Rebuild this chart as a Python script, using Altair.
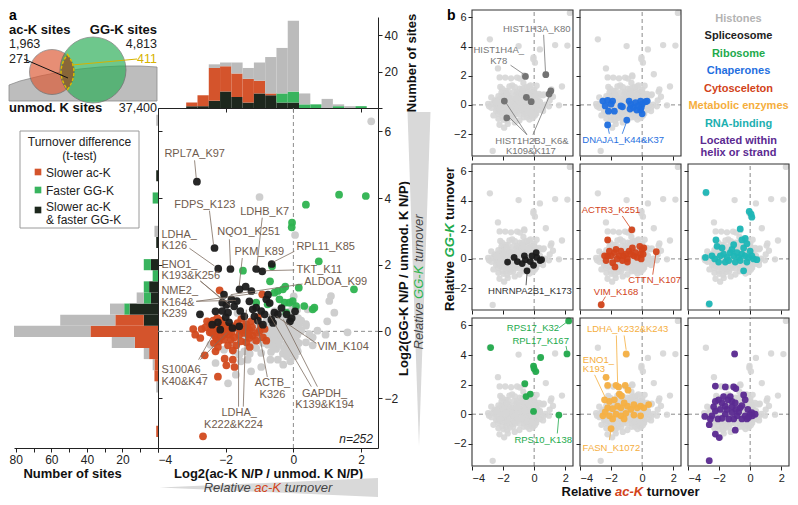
import altair as alt
import pandas as pd

W, H, M = 782, 489, 8          # drawing size (page minus 8px margin)
FONT = "Liberation Sans"

# ======================= DATA =======================
site_names = ["ac-K sites", "GG-K sites", "unmod. K sites"]
site_counts = ["1,963", "4,813", "37,400"]
overlap_counts = ["271", "411"]

cat_names = ["Slower ac-K & faster GG-K", "Slower ac-K", "Faster GG-K", "No difference"]
hist_colors = ["#1d271d", "#d4542c", "#38b45e", "#bbbbbb"]
point_colors = ["#1b1b1b", "#d24a1e", "#2eb350", "#cecece"]

# top histogram: bins of 1/3 along relative ac-K turnover (bin k -> centre k/3)
top_bin_k = list(range(-9, 7))
top_both = [1, 1, 4, 9, 6, 3, 8, 7, 3, 3, 0, 0, 0, 0, 0, 0]
top_slower = [2, 6, 18, 14, 13, 13, 7, 1, 0, 0, 0, 0, 0, 0, 0, 0]
top_faster = [0, 0, 0, 0, 0, 0, 0, 0, 5, 6, 2, 2, 0, 1, 0, 1]
top_none = [0, 0, 2, 2, 6, 6, 10, 20, 25, 39, 6, 0, 5, 1, 1, 0]

# left histogram: bins of 1/3 along relative GG-K turnover
left_bin_k = [-9, -5, -4, -3, -2, -1, 0, 1, 2, 3, 4, 5, 6, 8, 9, 12, 14, 19]
left_both = [0, 0, 0, 0, 0, 0, 0, 8, 16, 4, 5, 0, 4, 1, 0, 0, 1, 0]
left_slower = [1, 0, 2, 2, 5, 13, 38, 16, 0, 0, 0, 0, 0, 0, 0, 0, 0, 0]
left_faster = [0, 0, 0, 0, 0, 0, 0, 0, 3, 4, 3, 3, 4, 0, 0, 3, 0, 0]
left_none = [0, 1, 0, 1, 3, 13, 43, 31, 8, 4, 0, 0, 0, 0, 2, 0, 0, 1]

# sites (x = log2 ac-K ratio, y = log2 GG-K ratio)
pts_both = [(-2.85, 4.49), (-2.33, 2.5), (-2.22, 1.88), (-1.86, 1.87), (-1.1, 1.87), (-0.92, 1.8),
            (-0.64, 2.02), (-1.59, 1.26), (-1.41, 1.34), (-1.24, 1.21), (-0.8, 0.96), (-2.1, 0.86),
            (-1.83, 0.96), (-1.67, 0.91), (-2.76, 0.51), (-1.98, 0.79), (-2.1, 0.61), (-1.93, 0.56),
            (-2.23, 0.27), (-1.9, 0.27), (-2.16, 0.05), (-1.57, 0.61), (-1.1, 0.71), (-0.95, 0.61),
            (-1.05, 0.32), (-0.85, 0.51), (-0.46, 0.51), (-0.2, 0.51), (-1.2, 0.66), (-0.56, 0.56),
            (-2.0, 0.42), (-1.75, 0.75), (-2.4, 0.2), (-1.45, 0.45), (-0.65, 0.35), (-1.3, 0.9),
            (-2.05, 1.1), (-0.35, 0.7), (-1.6, 0.15), (-0.9, 0.2), (-1.15, 0.45), (-2.3, 0.6),
            (-0.1, 0.3), (-1.8, 0.1), (-0.7, 0.85), (-0.6, 0.25), (-0.75, 1.1), (0.05, 0.6), (-0.05, 0.4)]
pts_slower = [(-2.96, 0.07), (-2.9, -0.1), (-2.71, 0.07), (-2.62, -0.72), (-2.67, -3.15), (-2.55, 0.3),
              (-2.75, -0.2), (-2.6, 0.12), (-2.47, -0.03), (-2.32, -0.13), (-2.27, -0.23), (-2.42, 0.12),
              (-2.23, -0.47), (-2.23, -1.36), (-2.37, 0.32), (-2.45, 0.22), (-2.3, 0.05), (-2.2, 0.15),
              (-2.35, -0.35), (-2.4, -0.05), (-2.25, 0.4), (-2.18, -0.05), (-2.3, -0.6), (-2.42, 0.0),
              (-2.2, -0.3), (-2.35, 0.1), (-2.03, -0.08), (-1.93, -0.42), (-2.03, -0.82), (-1.98, -1.02),
              (-2.13, 0.32), (-2.1, 0.1), (-1.95, 0.15), (-1.9, -0.1), (-2.05, -0.25), (-1.88, 0.05),
              (-2.12, -0.15), (-1.97, 0.0), (-2.08, 0.2), (-1.85, -0.25), (-1.83, -0.03), (-1.69, 0.12),
              (-1.74, -0.18), (-1.54, 0.02), (-1.69, -0.42), (-1.79, -0.57), (-1.79, -0.85), (-1.74, -1.07),
              (-1.54, 0.37), (-1.6, -0.1), (-1.65, 0.25), (-1.78, 0.15), (-1.55, -0.3), (-1.39, 0.22),
              (-1.29, 0.02), (-1.2, -0.13), (-1.39, -0.33), (-1.29, -0.47), (-1.35, 0.1), (-1.25, 0.3),
              (-1.45, -0.05), (-1.4, 0.05), (-1.3, -0.2), (-1.22, 0.12), (-1.47, 0.15), (-1.33, -0.1),
              (-1.0, 0.02), (-0.85, 0.07), (-1.1, -0.28), (-0.9, -0.18), (-1.05, 0.42), (-0.95, 0.15),
              (-1.08, -0.05), (-0.8, -0.28), (-2.18, 1.23), (-0.92, 1.11)]
pts_faster = [(1.35, 4.1), (2.14, 4.06), (0.37, 3.8), (-0.04, 3.26), (-0.05, 3.12), (0.75, 2.1),
              (-0.63, 1.95), (-0.69, 1.5), (0.16, 1.31), (1.79, 1.26), (-0.46, 1.21), (-0.31, 1.26),
              (-0.41, 0.96), (-0.12, 0.86), (-0.02, 0.91), (0.62, 0.71), (-0.56, 1.16), (-1.49, 1.82),
              (-0.24, 1.34), (-1.1, 0.86), (-0.26, 0.86), (0.08, 0.76), (0.32, 0.76), (0.57, 0.66),
              (-0.21, 0.56), (-0.76, 0.81)]
pts_none = [(-0.12, -0.08), (0.08, -0.28), (-0.02, 0.12), (-0.12, -0.57), (0.05, 2.89), (0.0, 0.3),
            (0.1, 0.05), (-0.08, 0.2), (0.12, -0.1), (-0.15, 0.35), (0.02, -0.45), (0.15, 0.2),
            (-0.05, -0.2), (0.06, 0.45), (-0.1, 0.6), (0.13, -0.6), (-0.14, -0.3), (0.0, -0.05),
            (0.09, 0.15), (-0.07, 0.45), (0.04, -0.75), (-0.16, 0.05), (0.16, -0.35), (-0.03, 0.8),
            (0.11, 0.65), (-0.09, -0.9), (0.07, -0.12), (-0.13, 0.15), (0.03, 0.25), (0.14, 0.4),
            (-0.06, -0.38), (0.01, 1.05), (-0.11, -0.18), (0.1, -0.5), (0.05, 0.1), (-0.04, -0.65),
            (0.15, 0.0), (-0.15, -0.1), (-0.41, -0.28), (-0.31, -0.67), (-0.21, 0.07), (-0.36, 0.22),
            (-0.21, 0.37), (-0.46, -0.85), (-0.25, -0.15), (-0.3, 0.1), (-0.45, 0.0), (-0.2, -0.35),
            (-0.35, 0.45), (-0.4, 0.3), (-0.28, -0.5), (-0.48, 0.15), (-0.18, 0.25), (-0.33, -0.05),
            (-0.43, -0.4), (-0.24, 0.55), (-0.38, 0.65), (-0.19, -0.75), (-0.27, 0.2), (-0.47, -0.15),
            (-0.3, -1.0), (-0.42, 0.5), (-0.22, -0.55), (-0.66, -0.08), (-0.66, -0.62), (-0.8, 0.12),
            (-0.51, -0.53), (-0.51, 0.37), (-0.6, 0.05), (-0.7, -0.25), (-0.55, 0.2), (-0.75, -0.4),
            (-0.65, 0.3), (-0.58, -0.15), (-0.72, 0.0), (-0.8, -0.15), (-0.53, -0.3), (-0.62, 0.45),
            (-0.78, 0.35), (-0.68, -0.85), (-0.56, 0.6), (-0.7, 0.15), (-0.6, -0.45), (-0.95, -1.07),
            (-1.0, 4.03), (-1.1, -0.5), (-0.9, -0.35), (-1.05, 0.25), (-0.88, 0.0), (-1.15, 0.05),
            (-0.95, -0.65), (-1.12, -0.2), (-0.86, 0.2), (-1.29, -0.67), (-1.35, -0.85), (-1.2, -0.4),
            (-1.45, -0.6), (-1.25, -1.2), (-1.4, -0.15), (-1.6, -0.7), (-1.7, -1.3), (-1.55, -0.9),
            (-1.8, -0.35), (-1.65, 0.55), (-1.75, -0.6), (-1.93, -1.56), (-2.05, -0.55), (-2.3, -0.95),
            (-2.45, -0.4), (0.23, 0.32), (0.37, 0.22), (0.47, -0.08), (0.37, -0.33), (0.23, 0.02),
            (0.37, 0.17), (0.57, -0.18), (0.71, 0.02), (0.57, -0.42), (0.42, 0.66), (1.06, 0.91),
            (1.11, 1.06), (1.21, 0.56), (0.95, -0.1), (1.0, 0.3), (1.6, -0.03), (2.3, 6.3)]

a_labels = [("RPL7A_K97", -3.81, 5.31, "left"), ("FDPS_K123", -3.52, 3.80, "left"),
            ("LDHB_K7", -1.57, 3.59, "left"), ("LDHA_", -3.90, 2.90, "left"), ("K126", -3.90, 2.55, "left"),
            ("NQO1_K251", -2.25, 2.97, "left"), ("PKM_K89", -1.74, 2.37, "left"),
            ("RPL11_K85", 0.09, 2.52, "left"), ("TKT_K11", 0.09, 1.84, "left"), ("ALDOA_K99", 0.32, 1.48, "left"),
            ("ENO1_", -3.90, 1.99, "left"), ("K193&K256", -3.90, 1.65, "left"),
            ("NME2_", -3.90, 1.20, "left"), ("K164&", -3.90, 0.86, "left"), ("K239", -3.90, 0.53, "left"),
            ("S100A6_", -3.90, -1.16, "left"), ("K40&K47", -3.90, -1.51, "left"),
            ("LDHA_", -1.60, -2.46, "center"), ("K222&K224", -1.77, -2.80, "center"),
            ("ACTB_", -0.62, -1.54, "center"), ("K326", -0.62, -1.90, "center"),
            ("GAPDH_", 0.92, -1.87, "center"), ("K139&K194", 0.92, -2.20, "center"),
            ("VIM_K104", 0.71, -0.47, "left")]
a_leaders = [(-2.92, 5.13, -2.87, 4.6), (-2.48, 3.62, -2.36, 2.61), (-0.92, 3.41, -1.08, 1.96),
             (-3.07, 2.49, -2.33, 1.96), (-1.89, 2.76, -1.86, 1.99), (-1.51, 2.2, -1.6, 1.36),
             (0.03, 2.4, -0.59, 2.08), (0.03, 1.84, -0.83, 1.82), (0.27, 1.42, -1.85, 1.1),
             (-2.75, 1.51, -2.07, 0.92), (-2.75, 1.51, -1.86, 0.77), (-2.87, 0.9, -1.06, 1.15),
             (-2.87, 0.9, -1.7, 0.93), (-2.8, -0.85, -2.39, -0.12), (-2.75, -0.85, -1.95, -0.03),
             (-1.62, -2.26, -1.62, -0.03), (-1.48, -2.26, -1.39, 0.65), (-0.77, -1.37, -1.09, 0.36),
             (0.53, -1.66, -0.71, 0.5), (0.71, -1.66, -0.3, 0.36), (0.68, -0.36, -0.5, 0.45)]

# panel b groups
hist_pts = [(-0.56, 1.95), (0.75, 2.07), (1.07, 0.96), (0.96, 0.74), (-0.5, 0.52), (-0.19, 0.22),
            (-1.92, 0.26), (-1.76, -0.89)]
chap_pts = [(-2.53, 0.26), (-2.22, 0.31), (-1.9, 0.26), (-2.38, -0.07), (-2.0, 0.05), (-1.37, -0.07),
            (-1.27, -0.13), (-0.84, 0.26), (-0.73, 0.05), (-0.57, -0.17), (-0.42, 0.16), (-0.1, 0.26),
            (0.0, 0.05), (0.22, 0.22), (0.32, 0.26), (-0.06, -0.17), (-0.1, -0.35), (0.0, -0.61),
            (-0.78, -0.28), (-1.79, -0.43), (-2.17, -0.43), (-2.22, -1.37), (-0.99, -1.04), (-0.35, -0.35),
            (-0.27, -0.07)]
splice_pts = [(-1.71, -0.22), (-1.29, 0.1), (-1.08, -0.18), (-0.77, -0.32), (-0.63, 0.21), (-0.56, -0.05),
              (-0.25, -0.18), (0.13, 0.43), (0.17, 0.1), (0.38, -0.11), (-0.04, -0.44), (-0.46, -0.82),
              (0.48, -0.05), (-0.14, 0.21)]
cyto_pts = [(-2.22, 1.3), (-2.42, 0.21), (-2.32, -0.11), (-2.22, 0.21), (-2.0, 0.21), (-1.9, -0.26),
            (-1.75, -0.55), (-1.68, 0.65), (-1.47, 0.21), (-1.37, 0.54), (-1.2, 0.21), (-1.05, 0.32),
            (-0.95, 0.0), (-0.84, 0.54), (-0.73, 0.32), (-0.63, 0.75), (-0.53, 0.21), (-0.42, 0.43),
            (-0.32, 0.1), (-0.15, 0.86), (-0.1, 0.32), (0.0, 0.65), (-0.06, 0.0), (0.06, 0.32), (0.11, 0.75),
            (-1.27, -0.11), (-1.62, 0.0), (-0.67, 1.99), (0.91, 0.49), (-2.63, -3.14), (-0.95, -0.22),
            (-1.79, 0.43), (-2.11, 0.54)]
rna_pts = [(-2.84, 4.55), (-0.06, 3.25), (0.06, 3.07), (0.11, 2.86), (-0.64, 2.05), (-2.2, 1.3),
           (-0.32, 1.4), (-0.53, 1.3), (-2.88, 0.1), (-2.46, 0.21), (-2.13, 0.86), (-1.81, 0.75),
           (-1.71, 0.32), (-1.49, 0.1), (-1.28, 0.43), (-1.17, 0.65), (-1.06, 0.21), (-0.85, 0.43),
           (-0.74, 0.1), (-0.64, -0.11), (-0.53, 0.32), (-0.42, 0.75), (-0.32, 0.21), (-0.21, -0.22),
           (-0.1, 0.1), (0.0, 0.54), (0.11, 0.21), (0.22, 0.0), (0.43, -0.05), (-2.03, -0.22), (-1.6, -0.22),
           (-1.38, -0.11), (-0.96, -0.22), (-0.42, -0.82), (-2.63, -3.08), (-2.28, 0.0), (-1.92, 0.21),
           (-1.06, 0.97), (-0.21, 1.04)]
ribo_pts = [(-2.8, 4.5), (2.22, 6.3), (2.11, 4.07), (0.42, 3.83), (-0.04, 3.25), (0.0, 3.07), (0.11, 2.88),
            (-0.6, 2.06), (-0.25, 1.36), (-0.52, 1.19), (-0.04, 0.19), (1.59, -0.06)]
metab_pts = [(-1.03, 4.07), (-2.32, 2.49), (-2.22, 1.95), (-1.68, 1.95), (-1.52, 1.84), (-1.09, 1.95),
             (-1.47, 1.36), (-1.33, 1.23), (-2.11, 0.86), (-1.79, 0.97), (-2.38, 0.15), (-2.22, 0.43),
             (-1.9, 0.37), (-1.58, 0.54), (-1.37, 0.43), (-1.16, 0.76), (-0.95, 0.54), (-0.73, 0.32),
             (-0.53, 0.65), (-0.32, 0.43), (-0.1, 0.54), (0.11, 0.43), (0.42, 0.65), (-2.53, -0.11),
             (-2.11, -0.11), (-1.68, 0.0), (-1.37, -0.11), (-1.05, 0.06), (-0.53, -0.06), (-0.1, -0.11),
             (-1.9, -0.32), (-1.16, -0.32), (-2.0, -0.97), (-0.91, 1.62), (-2.42, 0.97)]
helix_pts = [(-1.0, 4.07), (-2.24, 1.9), (-1.6, 1.84), (-1.06, 1.84), (-0.92, 1.73), (-2.63, -3.14),
             (-2.24, -1.34), (-1.99, -1.58), (-2.63, -0.71), (-2.92, -0.15), (-0.96, -1.08), (-2.24, 0.86),
             (-2.03, 0.97), (-1.81, 0.76), (-1.6, 0.54), (-1.28, 1.19), (-1.17, 0.86), (-0.96, 0.76),
             (-0.64, 0.43), (-0.42, 1.3), (-0.32, 0.97), (-0.15, 0.32), (0.0, 0.0), (0.11, 0.11),
             (-0.21, -0.32), (-0.53, -0.32), (-0.85, -0.11), (-1.17, 0.11), (-1.6, 0.0), (-1.92, 0.32),
             (-2.24, 0.21), (-2.46, -0.11), (-2.56, -0.32), (-2.07, -0.32), (-1.81, -0.28), (-1.38, -0.32),
             (-1.06, -0.32), (-0.74, 0.15), (-0.32, -0.11), (-0.1, -0.22), (0.15, -0.11), (-2.35, 0.5),
             (-1.43, 0.97), (-0.53, 0.58), (-0.92, 0.32), (-1.71, 1.19), (-1.17, 0.5), (0.32, 0.0),
             (-1.49, 0.32)]

hist_labels = [("HIST1H3A_K80", 0.17, 5.21, "center"), ("HIST1H4A_", -2.28, 3.76, "center"),
               ("K78", -2.28, 2.98, "center"), ("HIST1H2BJ_K6&", -0.14, -2.45, "center"),
               ("K109&K117", -0.21, -3.15, "center")]
hist_leaders = [(0.61, 4.8, 0.73, 2.26), (-1.52, 2.72, -0.71, 2.13), (-0.46, -2.04, -1.81, 0.14),
                (-0.46, -2.04, -1.65, -0.8), (-0.08, -2.04, 1.08, 0.86)]
chap_labels = [("DNAJA1_K44&K37", -1.22, -2.43, "center")]
chap_leaders = [(-2.11, -1.98, -2.22, -1.45), (-1.28, -1.98, -0.99, -1.13)]
splice_labels = [("HNRNPA2B1_K173", -0.27, -2.23, "center")]
splice_leaders = [(-0.52, -1.8, -0.46, -1.02)]
cyto_labels = [("ACTR3_K251", -2.0, 3.35, "center"), ("CTTN_K107", 0.8, -1.45, "center"),
               ("VIM_K168", -1.68, -2.27, "center")]
cyto_leaders = [(-1.28, 2.94, -0.78, 2.16), (0.68, -1.08, 0.87, 0.28), (-2.36, -2.58, -2.58, -2.97)]
ribo_labels = [("RPS17_K32", -0.08, 5.84, "center"), ("RPL17_K167", 0.42, 4.94, "center"),
               ("RPS10_K138", 0.58, -1.73, "center")]
ribo_leaders = [(1.61, 5.84, 2.11, 6.23), (2.05, 4.61, 2.11, 4.3), (1.49, -1.3, 1.58, -0.26)]
metab_labels = [("LDHA_K232&K243", -0.94, 5.73, "center"), ("ENO1_", -3.82, 3.68, "left"),
                ("K193", -3.82, 3.03, "left"), ("FASN_K1072", -1.98, -2.27, "center")]
metab_leaders = [(-1.66, 5.32, -1.58, 2.14), (-1.16, 5.32, -1.03, 4.35), (-3.06, 2.66, -2.36, 1.1),
                 (-2.11, -1.75, -2.01, -1.1)]

group_names = ["Histones", "Spliceosome", "Ribosome", "Chaperones", "Cytosceleton",
               "Metabolic enzymes", "RNA-binding", "Located within", "helix or strand"]
group_colors = ["#b3b3b3", "#222222", "#22aa4c", "#1f6fe0", "#d2431a", "#f5ae3d", "#1cb0b0",
                "#5b2a91", "#5b2a91"]

# ======================= HELPERS =======================
def sc(domain, a, b):
    return alt.Scale(domain=list(domain), range=[a - M, b - M], nice=False, zero=False)


def axis(orient, at, values, labels=True, title=None, size=12, **kw):
    if orient == "bottom":
        off = (at - M) - H
    elif orient in ("top", "left"):
        off = -(at - M)
    else:
        off = (at - M) - W
    return alt.Axis(orient=orient, offset=off, values=values, labels=labels, title=title,
                    tickSize=4, tickColor="#222", domainColor="#222", labelColor="#222",
                    labelFont=FONT, labelFontSize=size, labelPadding=2, grid=False,
                    titleFont=FONT, titleFontSize=13, titleFontWeight="bold", titleColor="#111", **kw)


def XY(cx, cy, ax=None, ay=None, xf="x", yf="y"):
    return dict(x=alt.X(f"{xf}:Q", scale=cx(), axis=ax), y=alt.Y(f"{yf}:Q", scale=cy(), axis=ay))


def pts_layer(pts, cx, cy, color, size, opacity=1.0):
    df = pd.DataFrame(pts, columns=["x", "y"])
    return alt.Chart(df).mark_circle(size=size, color=color, opacity=opacity).encode(**XY(cx, cy))


def rule_layer(segs, cx, cy, color, width=0.8, dash=None, ax=None, ay=None):
    df = pd.DataFrame(segs, columns=["x", "y", "x2", "y2"])
    kw = dict(color=color, strokeWidth=width)
    if dash:
        kw["strokeDash"] = dash
    return alt.Chart(df).mark_rule(**kw).encode(**XY(cx, cy, ax, ay), x2="x2:Q", y2="y2:Q")


def text_layers(rows, cx, cy, size, color, style="normal"):
    df = pd.DataFrame(rows, columns=["t", "x", "y", "al"])
    out = []
    for al in ("left", "center", "right"):
        sub = df[df["al"] == al]
        if len(sub):
            out.append(alt.Chart(sub).mark_text(align=al, baseline="middle", font=FONT, fontSize=size,
                                                fontStyle=style, color=color)
                       .encode(**XY(cx, cy), text="t:N"))
    return out


def stack(bin_k, layers):
    rows = []
    for i, k in enumerate(bin_k):
        base = 0
        for cat, counts in layers:
            if counts[i] > 0:
                rows.append(dict(lo=k / 3 - 1 / 6, hi=k / 3 + 1 / 6, c0=base, c1=base + counts[i], cat=cat))
                base += counts[i]
    return pd.DataFrame(rows)


L = []

# ======================= PANEL a =======================
ax_ = lambda: sc([-4, 2.5], 158, 378)
ay_ = lambda: sc([-3.5, 6.7], 448, 108)
thy_ = lambda: sc([0, 50], 108, 17)
lhx_ = lambda: sc([0, 81], 158, 14)
vx_ = lambda: sc([0, 170], 0, 170)
vy_ = lambda: sc([0, 120], 0, 120)

# Venn diagram (diagram units)
venn_gray = pd.DataFrame({"x": [9, 20, 40, 60, 80, 100, 120, 140, 157],
                          "y": [85, 81, 76, 72, 69, 67, 66, 66, 67]})
venn_gray["y2"] = 101
L.append(alt.Chart(venn_gray).mark_area(color="#bdbdbd", stroke="#8c8c8c", strokeWidth=0.8)
         .encode(**XY(vx_, vy_), y2="y2:Q"))
venn_c = pd.DataFrame({"set": ["ac-K", "GG-K"], "x": [52, 93], "y": [72, 70], "s": [45 ** 2, 66 ** 2]})
L.append(alt.Chart(venn_c).mark_circle(opacity=0.68, stroke="#555", strokeWidth=0.8)
         .encode(**XY(vx_, vy_), size=alt.Size("s:Q", scale=None),
                 color=alt.Color("set:N", scale=alt.Scale(domain=["ac-K", "GG-K"], range=["#dd5a35", "#2aae57"]),
                                 legend=None)))
LENS = "M0,-1Q0.74,0 0,1Q-0.74,0 0,-1Z"
L.append(alt.Chart(pd.DataFrame({"x": [67.5], "y": [72]}))
         .mark_point(shape=LENS, size=1225, filled=True, fill="#8f5d33", fillOpacity=0.85, opacity=1,
                     stroke="#e0bc00", strokeWidth=1.4, strokeDash=[3, 2])
         .encode(**XY(vx_, vy_)))
venn_lead = pd.DataFrame({"x": [24, 137], "y": [59, 59], "x2": [68, 72], "y2": [78, 65], "c": ["#111111", "#d6b300"]})
L.append(alt.Chart(venn_lead).mark_rule(strokeWidth=1)
         .encode(**XY(vx_, vy_), x2="x2:Q", y2="y2:Q", color=alt.Color("c:N", scale=None)))

# top histogram
top_df = stack(top_bin_k, [(cat_names[0], top_both), (cat_names[1], top_slower),
                           (cat_names[2], top_faster), (cat_names[3], top_none)])
L.append(alt.Chart(top_df).mark_rect().encode(
    x=alt.X("lo:Q", scale=ax_(), axis=axis("bottom", 108, [-4, -2, 0, 2], labels=False)), x2="hi:Q",
    y=alt.Y("c0:Q", scale=thy_(), axis=axis("right", 378, [0, 20, 40], title="Number of sites",
                                            titleAngle=270, titleBaseline="top", titlePadding=8,
                                            labelExpr="datum.value == 0 ? '' : datum.label")), y2="c1:Q",
    color=alt.Color("cat:N", scale=alt.Scale(domain=cat_names, range=hist_colors), legend=None)))

# left histogram
left_df = stack(left_bin_k, [(cat_names[0], left_both), (cat_names[1], left_slower),
                             (cat_names[2], left_faster), (cat_names[3], left_none)])
L.append(alt.Chart(left_df).mark_rect().encode(
    x=alt.X("c0:Q", scale=lhx_(), axis=axis("bottom", 448, list(range(0, 81, 10)), title="Number of sites",
                                             titleX=64, titlePadding=2,
                                             labelExpr="datum.value > 0 && datum.value % 20 == 0 ? datum.label : ''")),
    x2="c1:Q",
    y=alt.Y("lo:Q", scale=ay_(), axis=axis("right", 158, [-2, 0, 2, 4, 6], labels=False)), y2="hi:Q",
    color=alt.Color("cat:N", scale=alt.Scale(domain=cat_names, range=hist_colors), legend=None)))

# scatter
L.append(rule_layer([(-4, 0, 2.5, 0), (0, -3.5, 0, 6.7)], ax_, ay_, "#8c8c8c", 1, [4, 3],
                    ax=axis("bottom", 448, [-4, -2, 0, 2], title="Log2(ac-K N/P / unmod. K N/P)", titlePadding=2),
                    ay=axis("right", 378, [-2, 0, 2, 4, 6], title="Log2(GG-K N/P / unmod. K N/P)",
                            titleAngle=270, titleBaseline="top", titlePadding=0)))
L.append(pts_layer(pts_none, ax_, ay_, point_colors[3], 60))
sc_df = pd.concat([pd.DataFrame(pts_slower, columns=["x", "y"]).assign(cat=cat_names[1]),
                   pd.DataFrame(pts_faster, columns=["x", "y"]).assign(cat=cat_names[2]),
                   pd.DataFrame(pts_both, columns=["x", "y"]).assign(cat=cat_names[0])])
L.append(alt.Chart(sc_df).mark_circle(size=60, opacity=0.95).encode(
    **XY(ax_, ay_), color=alt.Color("cat:N", scale=alt.Scale(domain=cat_names[:3], range=point_colors[:3]),
                                    legend=None)))
L.append(rule_layer(a_leaders, ax_, ay_, "#7d6d61", 0.8))
L += text_layers(a_labels, ax_, ay_, 11, "#6f5b4d")
L += text_layers([("n=252", 2.35, -3.23, "right")], ax_, ay_, 12, "#222222", style="italic")

# turnover wedges
hw_ = lambda: sc([-1, 1], 497, 478)
L.append(alt.Chart(pd.DataFrame({"x": [-3.95, 2.5], "lo": [0, -1], "hi": [0, 1]})).mark_area(color="#d9d9d9")
         .encode(x=alt.X("x:Q", scale=ax_(), axis=None), y=alt.Y("lo:Q", scale=hw_(), axis=None), y2="hi:Q"))
vw_ = lambda: sc([-1, 1], 407.5, 430.5)
L.append(alt.Chart(pd.DataFrame({"y": [6.58, -3.45], "lo": [-1, 0], "hi": [1, 0]}))
         .mark_area(color="#d9d9d9", orient="horizontal")
         .encode(y=alt.Y("y:Q", scale=ay_(), axis=None), x=alt.X("lo:Q", scale=vw_(), axis=None), x2="hi:Q"))

# turnover legend box
L.append(alt.Chart(pd.DataFrame({"X": [20 - M], "X2": [139 - M], "Y": [131 - M], "Y2": [228 - M]}))
         .mark_rect(fill="white", stroke="#9a9a9a", strokeWidth=1)
         .encode(x=alt.X("X:Q", scale=None), x2="X2:Q", y=alt.Y("Y:Q", scale=None), y2="Y2:Q"))
L.append(alt.Chart(pd.DataFrame({"X": [38 - M] * 3, "Y": [172 - M, 190 - M, 210 - M],
                                 "c": [hist_colors[1], hist_colors[2], hist_colors[0]]}))
         .mark_square(size=44, opacity=1)
         .encode(x=alt.X("X:Q", scale=None), y=alt.Y("Y:Q", scale=None), color=alt.Color("c:N", scale=None)))

# ======================= PANEL b =======================
cols = [(472, 573), (580, 681), (688, 789)]
rows = [(156, 10), (310, 164), (466, 318)]
all_pts = pts_none + pts_slower + pts_faster + pts_both


def panel(r, c, pts, color, labels, leaders, lcolor):
    cx = lambda: sc([-4, 2.5], *cols[c])
    cy = lambda: sc([-3.5, 6.5], *rows[r])
    out = [rule_layer([(-4, 0, 2.5, 0), (0, -3.5, 0, 6.5)], cx, cy, "#8a8a8a", 1, [4, 3],
                      ax=axis("bottom", rows[r][0], [-4, -2, 0, 2], labels=(r == 2), size=11, domain=False),
                      ay=axis("left", cols[c][0], [-2, 0, 2, 4, 6], labels=(c == 0), size=11, domain=False)),
           pts_layer(all_pts, cx, cy, "#d6d6d6", 40, 0.9),
           pts_layer(pts, cx, cy, color, 46, 0.95)]
    if leaders:
        out.append(rule_layer(leaders, cx, cy, lcolor, 0.8))
    if labels:
        out += text_layers(labels, cx, cy, 9.5, lcolor)
    out.append(alt.Chart(pd.DataFrame({"x": [-4], "x2": [2.5], "y": [-3.5], "y2": [6.5]}))
               .mark_rect(fillOpacity=0, stroke="#333333", strokeWidth=1.1)
               .encode(**XY(cx, cy), x2="x2:Q", y2="y2:Q"))
    return out


L += panel(0, 0, hist_pts, "#6e6e6e", hist_labels, hist_leaders, "#767676")
L += panel(0, 1, chap_pts, "#1f6fe0", chap_labels, chap_leaders, "#1f6fe0")
L += panel(1, 0, splice_pts, "#1b1b1b", splice_labels, splice_leaders, "#333333")
L += panel(1, 1, cyto_pts, "#d2431a", cyto_labels, cyto_leaders, "#d2431a")
L += panel(1, 2, rna_pts, "#1db6b6", [], [], "#1db6b6")
L += panel(2, 0, ribo_pts, "#22aa4c", ribo_labels, ribo_leaders, "#22aa4c")
L += panel(2, 1, metab_pts, "#f5b043", metab_labels, metab_leaders, "#f5ae3d")
L += panel(2, 2, helix_pts, "#5b2a91", [], [], "#5b2a91")

# ======================= fixed texts =======================
annot = [
    ("a", 9, 15.5, 14, "#000000", "bold", "normal", "left", 0),
    (site_names[0], 9, 30, 13, "#111111", "bold", "normal", "left", 0),
    (site_counts[0], 9, 43.5, 12.5, "#222222", "normal", "normal", "left", 0),
    (site_names[1], 157, 30, 13, "#111111", "bold", "normal", "right", 0),
    (site_counts[1], 157, 43.5, 12.5, "#222222", "normal", "normal", "right", 0),
    (overlap_counts[0], 9, 59, 12.5, "#222222", "normal", "normal", "left", 0),
    (overlap_counts[1], 157, 59, 12.5, "#d6b300", "normal", "normal", "right", 0),
    (site_names[2], 9, 108, 13, "#111111", "bold", "normal", "left", 0),
    (site_counts[2], 157, 108, 12.5, "#222222", "normal", "normal", "right", 0),
    ("Turnover difference", 79.5, 142, 12, "#222222", "normal", "normal", "center", 0),
    ("(t-test)", 79.5, 156, 12, "#222222", "normal", "normal", "center", 0),
    ("Slower ac-K", 46, 173, 12, "#222222", "normal", "normal", "left", 0),
    ("Faster GG-K", 46, 191, 12, "#222222", "normal", "normal", "left", 0),
    ("Slower ac-K", 46, 207, 12, "#222222", "normal", "normal", "left", 0),
    ("& faster GG-K", 46, 220, 12, "#222222", "normal", "normal", "left", 0),
    ("Relative", 203.7, 488, 13, "#444444", "normal", "italic", "left", 0),
    ("ac-K", 254.3, 488, 13, "#d2431a", "normal", "italic", "left", 0),
    ("turnover", 284.6, 488, 13, "#444444", "normal", "italic", "left", 0),
    ("Relative", 419, 349.5, 13, "#444444", "normal", "italic", "left", 270),
    ("GG-K", 419, 298.9, 13, "#2db54f", "normal", "italic", "left", 270),
    ("turnover", 419, 262.1, 13, "#444444", "normal", "italic", "left", 270),
    ("b", 447, 15.5, 14, "#000000", "bold", "normal", "left", 0),
    ("Relative", 450, 310.9, 13, "#111111", "bold", "normal", "left", 270),
    ("GG-K", 450, 257.4, 13, "#22aa4c", "bold", "italic", "left", 270),
    ("turnover", 450, 219.9, 13, "#111111", "bold", "normal", "left", 270),
    ("Relative", 561.5, 491.5, 13, "#111111", "bold", "normal", "left", 0),
    ("ac-K", 615, 491.5, 13, "#d2431a", "bold", "italic", "left", 0),
    ("turnover", 646.8, 491.5, 13, "#111111", "bold", "normal", "left", 0),
]
for name, yy, col in zip(group_names, [18.5, 36, 53.5, 71, 88.5, 106, 123.5, 140.5, 152.5], group_colors):
    annot.append((name, 738.5, yy, 11, col, "bold", "normal", "center", 0))

adf = pd.DataFrame(annot, columns=["t", "X", "Y", "s", "c", "wt", "st", "al", "a"])
adf["X"] = adf["X"] - M
adf["Y"] = adf["Y"] - M
for (wt, st, al), sub in adf.groupby(["wt", "st", "al"]):
    L.append(alt.Chart(sub).mark_text(font=FONT, fontWeight=wt, fontStyle=st, align=al, baseline="middle")
             .encode(x=alt.X("X:Q", scale=None), y=alt.Y("Y:Q", scale=None), text="t:N",
                     color=alt.Color("c:N", scale=None), size=alt.Size("s:Q", scale=None),
                     angle=alt.Angle("a:Q", scale=None)))

chart = (alt.layer(*L)
         .resolve_scale(x="independent", y="independent", color="independent", size="independent")
         .resolve_axis(x="independent", y="independent")
         .properties(width=W, height=H, autosize=alt.AutoSizeParams(type="none"), padding=0)
         .configure_view(stroke=None))
chart.save("out.html", embed_options={"renderer": "svg", "actions": False})
